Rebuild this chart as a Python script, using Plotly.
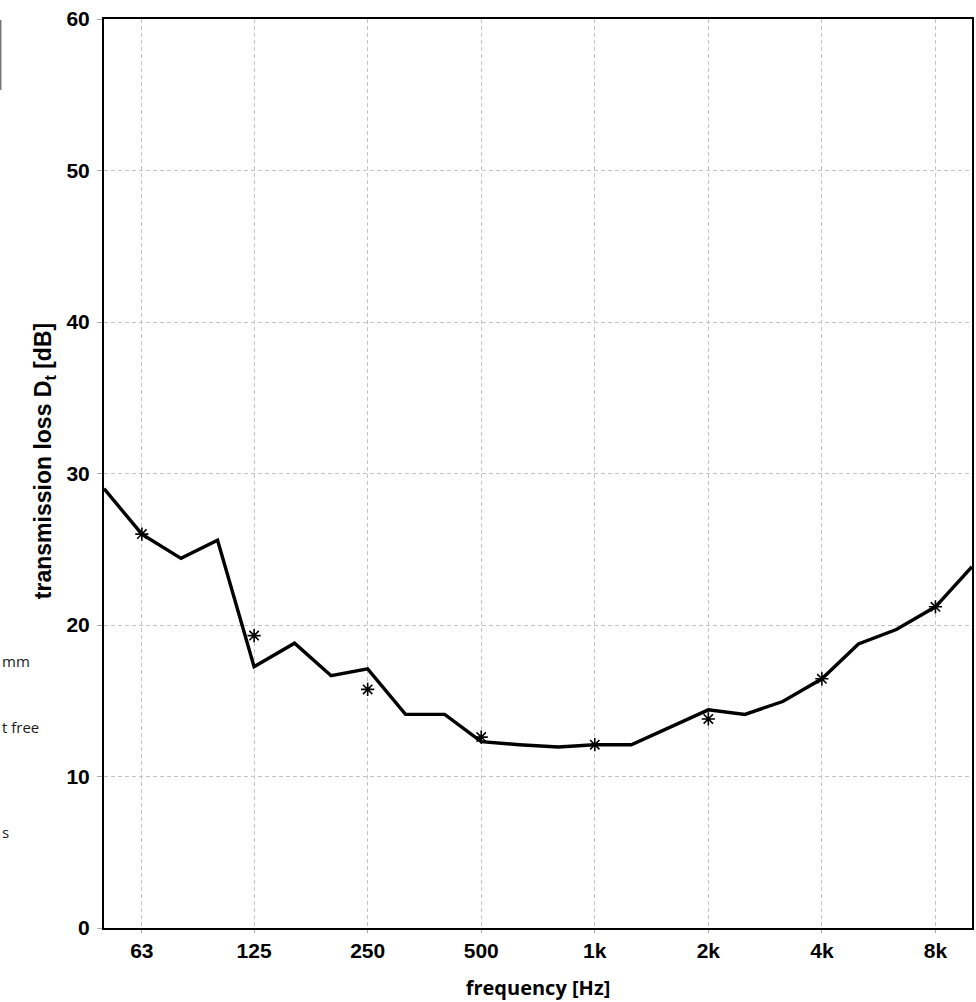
import plotly.graph_objects as go

freq = [50, 63, 80, 100, 125, 160, 200, 250, 315, 400, 500, 630, 800, 1000,
        1250, 1600, 2000, 2500, 3150, 4000, 5000, 6300, 8000, 10000]
loss = [29.0, 26.0, 24.4, 25.6, 17.25, 18.8, 16.65, 17.1, 14.1, 14.1, 12.3, 12.1,
        11.95, 12.1, 12.1, 13.3, 14.4, 14.1, 14.95, 16.45, 18.75, 19.7, 21.2, 23.85]

star_freq = [63, 125, 250, 500, 1000, 2000, 4000, 8000]
star_loss = [26.0, 19.3, 15.75, 12.6, 12.1, 13.8, 16.45, 21.2]

tick_vals = [63, 125, 250, 500, 1000, 2000, 4000, 8000]
tick_text = ["63", "125", "250", "500", "1k", "2k", "4k", "8k"]
y_ticks = [0, 10, 20, 30, 40, 50, 60]
side_texts = ["mm", "t free", "s"]

W, H = 976, 1002
PL, PR, PT, PB = 104, 974, 19, 928  # plot area in page pixels
PW, PH = PR - PL, PB - PT


def px(xp):
    return (xp - PL) / PW


def py(yp):
    return 1 - (yp - PT) / PH


fig = go.Figure()
fig.add_trace(go.Scatter(x=freq, y=loss, mode="lines",
                         line=dict(color="black", width=3.4), showlegend=False))
fig.add_trace(go.Scatter(x=star_freq, y=star_loss, mode="markers",
                         marker=dict(symbol="asterisk-open", size=11, color="black",
                                     line=dict(color="black", width=1.6)),
                         showlegend=False))

tick_font = dict(size=21, family="Liberation Sans, Arial", weight="bold", color="black")
grid = dict(showgrid=True, gridcolor="#c4c4c4", griddash="4px,3px", gridwidth=1,
            showline=True, linecolor="black", linewidth=2, mirror=True,
            ticklabeloverflow="allow")

fig.update_layout(
    width=W, height=H,
    margin=dict(l=PL, r=W - PR, t=PT, b=H - PB),
    paper_bgcolor="white", plot_bgcolor="white",
    font=dict(family="Liberation Sans, Arial", color="black"),
    xaxis=dict(type="log", range=[1.69897, 4.0],
               tickvals=tick_vals, ticktext=tick_text, tickfont=tick_font,
               ticks="outside", ticklen=3, tickcolor="#aaaaaa",
               title=dict(text="frequency [Hz]", standoff=20,
                          font=dict(size=20, family="Open Sans", weight="bold")),
               **grid),
    yaxis=dict(range=[0, 60], tickvals=y_ticks,
               tickfont=tick_font, zeroline=False,
               ticks="outside", ticklen=5, tickcolor="#aaaaaa",
               ticklabelstandoff=3,
               **grid),
)

fig.add_annotation(text="transmission loss D<sub>t</sub> [dB]", textangle=-90,
                   xref="paper", yref="paper", x=px(45), y=py(461),
                   xanchor="center", yanchor="middle", showarrow=False,
                   font=dict(size=23, family="Liberation Sans, Arial", weight="bold",
                             color="black"))

# fragments of a cut-off side panel at the left edge
for txt, ypx, xl in zip(side_texts, [661, 727, 832], [0, 0, 0]):
    fig.add_annotation(text=txt, xref="paper", yref="paper",
                       x=px(xl), y=py(ypx),
                       xanchor="left", yanchor="middle", showarrow=False,
                       font=dict(size=15, family="Open Sans", color="#1a1a1a"))
fig.add_shape(type="line", xref="paper", yref="paper",
              x0=px(0.5), x1=px(0.5), y0=py(20), y1=py(90),
              line=dict(color="#777777", width=1.5))

fig.write_html("out.html", config={"displayModeBar": False},
               post_script="document.body.style.margin='0';document.body.style.overflow='hidden';")
